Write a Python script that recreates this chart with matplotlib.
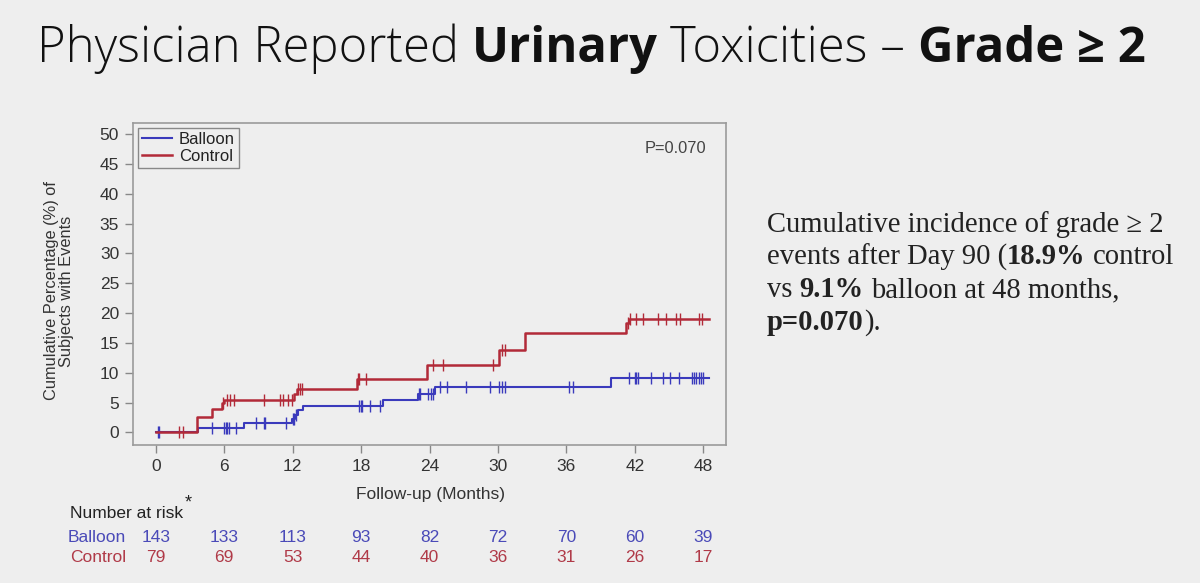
import matplotlib
matplotlib.use("Agg")
import matplotlib.pyplot as plt
import matplotlib.transforms as mtransforms
import numpy as np

# ---------------- data ----------------
risk_months = [0, 6, 12, 18, 24, 30, 36, 42, 48]
balloon_risk = [143, 133, 113, 93, 82, 72, 70, 60, 39]
control_risk = [79, 69, 53, 44, 40, 36, 31, 26, 17]

balloon_times = [0, 3.7, 7.7, 11.9, 12.2, 12.5, 12.9, 19.9, 23.0, 24.5, 39.9]
balloon_pct = [0, 0.8, 1.6, 2.2, 2.9, 3.7, 4.4, 5.5, 6.5, 7.7, 9.1]
balloon_censor = [0.15, 0.32, 4.9, 6.0, 6.15, 6.25, 6.4, 7.0, 8.8, 9.45, 9.6,
                  11.45, 12.0, 12.15, 12.3, 17.8, 17.95, 18.1, 18.8, 19.7,
                  23.05, 23.2, 23.9, 24.1, 24.3, 24.9, 25.5, 27.2, 29.3, 30.1,
                  30.35, 30.65, 36.2, 36.6, 41.5, 42.0, 42.15, 42.3, 43.4,
                  44.5, 45.1, 45.9, 47.0, 47.2, 47.4, 47.6, 47.8, 48.0]

control_times = [0, 3.6, 4.9, 5.8, 6.0, 12.1, 12.4, 17.6, 23.8, 30.1, 32.4, 41.25, 41.5]
control_pct = [0, 2.6, 4.0, 4.9, 5.4, 6.4, 7.2, 9.0, 11.3, 13.9, 16.6, 18.3, 19.0]
control_censor = [2.05, 2.4, 5.9, 6.2, 6.5, 6.85, 9.45, 10.9, 11.15, 11.6, 11.9,
                  12.45, 12.65, 12.85, 17.7, 17.85, 18.4, 24.3, 25.2, 29.55,
                  30.35, 30.65, 41.45, 41.6, 42.1, 42.7, 44.0, 44.7, 45.6,
                  46.0, 47.6, 47.9]
curve_end = 48.5

y_ticks = [0, 5, 10, 15, 20, 25, 30, 35, 40, 45, 50]

# ---------------- style ----------------
BG = "#eeeeee"
BLUE = "#3a3abc"
RED = "#b22a38"
BLUE_TXT = "#4a4ab8"
RED_TXT = "#b03a48"
W, H = 1200, 583
SANS = ["Liberation Sans", "DejaVu Sans"]
FS = 12.5

fig = plt.figure(figsize=(W / 100, H / 100), dpi=100, facecolor=BG)
ax = fig.add_axes([133 / W, 1 - 445 / H, 593 / W, (445 - 122.7) / H])
ax.set_facecolor(BG)


def step_value(times, pct, t):
    idx = np.searchsorted(np.asarray(times), np.asarray(t), side="right") - 1
    return np.asarray(pct)[idx]


ax.step(np.r_[balloon_times, curve_end], np.r_[balloon_pct, balloon_pct[-1]],
        where="post", color=BLUE, lw=1.5, label="Balloon", zorder=3)
ax.plot(balloon_censor, step_value(balloon_times, balloon_pct, balloon_censor),
        ls="none", marker="|", ms=8.5, mew=1.0, color=BLUE, zorder=3)
ax.step(np.r_[control_times, curve_end], np.r_[control_pct, control_pct[-1]],
        where="post", color=RED, lw=1.8, label="Control", zorder=4)
ax.plot(control_censor, step_value(control_times, control_pct, control_censor),
        ls="none", marker="|", ms=8.5, mew=1.0, color=RED, zorder=4)

ax.set_xlim(-2, 50)
ax.set_ylim(-2.1, 51.9)
ax.set_xticks(risk_months)
ax.set_yticks(y_ticks)
ax.tick_params(direction="out", length=6, width=1, color="#888888",
               labelcolor="#333333", labelsize=FS, pad=4)
for lab in ax.get_xticklabels() + ax.get_yticklabels():
    lab.set_family(SANS)
for sp in ax.spines.values():
    sp.set_color("#9a9a9a")
    sp.set_linewidth(1.2)

ax.set_ylabel("Cumulative Percentage (%) of\nSubjects with Events",
              fontsize=11.8, color="#333333", family=SANS, linespacing=1.05)
ax.yaxis.set_label_coords(-0.125, 0.478)
ax.yaxis.label.set_va("center")
ax.set_xlabel("Follow-up (Months)", fontsize=FS, color="#333333", family=SANS)
ax.xaxis.set_label_coords((430 - 133) / 593, (445 - 495) / 322.3)
ax.xaxis.label.set_va("center")

leg = ax.legend(loc="upper left", frameon=True, fancybox=False,
                edgecolor="#888888", facecolor=BG, framealpha=1,
                handlelength=1.8, handletextpad=0.4, borderpad=0.25,
                labelspacing=0.1, borderaxespad=0.3,
                prop={"family": SANS, "size": 12})
for t in leg.get_texts():
    t.set_color("#222222")

ax.text(0.966, 0.921, "P=0.070", transform=ax.transAxes, ha="right", va="center",
        fontsize=11.8, color="#444444", family=SANS)

# number at risk table
tr = mtransforms.blended_transform_factory(ax.transData, fig.transFigure)
fig.text(70 / W, 1 - 514 / H, "Number at risk", ha="left", va="center",
         fontsize=FS, color="#222222", family=SANS)
fig.text(188 / W, 1 - 503 / H, "*", ha="center", va="center",
         fontsize=13, color="#222222", family=SANS)
fig.text(126 / W, 1 - 538 / H, "Balloon", ha="right", va="center",
         fontsize=FS, color=BLUE_TXT, family=SANS)
fig.text(126 / W, 1 - 557 / H, "Control", ha="right", va="center",
         fontsize=FS, color=RED_TXT, family=SANS)
for m, b, c in zip(risk_months, balloon_risk, control_risk):
    ax.text(m, 1 - 538 / H, str(b), transform=tr, ha="center", va="center",
            fontsize=FS, color=BLUE_TXT, family=SANS)
    ax.text(m, 1 - 557 / H, str(c), transform=tr, ha="center", va="center",
            fontsize=FS, color=RED_TXT, family=SANS)

# --------------- mixed-weight text helper ---------------
renderer = fig.canvas.get_renderer()


def text_width(s, **kw):
    t = fig.text(0, 0, s, **kw)
    w = t.get_window_extent(renderer).width
    t.remove()
    return w


def draw_pieces(x_px, base_px, pieces, **kw):
    x = x_px
    for s, weight in pieces:
        sw = text_width("a a", fontweight=weight, **kw) - text_width("aa", fontweight=weight, **kw)
        lead = len(s) - len(s.lstrip(" "))
        trail = len(s) - len(s.rstrip(" "))
        core = s.strip(" ")
        x += lead * sw
        if core:
            t = fig.text(x / W, 1 - base_px / H, core, fontweight=weight,
                         ha="left", va="baseline", **kw)
            x += t.get_window_extent(renderer).width
        x += trail * sw


draw_pieces(37, 62, [("Physician Reported ", "light"), ("Urinary", "bold"),
                     (" Toxicities – ", "light"), ("Grade ≥ 2", "bold")],
            fontsize=35.3, family=["Open Sans", "DejaVu Sans"], color="#111111")

serif = dict(fontsize=20.6, family=["Liberation Serif", "DejaVu Serif"], color="#222222")
draw_pieces(767, 232, [("Cumulative incidence of grade ≥ 2", "normal")], **serif)
draw_pieces(767, 264.5, [("events after Day 90 (", "normal"), ("18.9%", "bold"),
                         (" control", "normal")], **serif)
draw_pieces(767, 297, [("vs ", "normal"), ("9.1%", "bold"),
                       (" balloon at 48 months,", "normal")], **serif)
draw_pieces(767, 329.5, [("p=0.070", "bold"), (").", "normal")], **serif)

fig.savefig("out.png", dpi=100, facecolor=BG)
